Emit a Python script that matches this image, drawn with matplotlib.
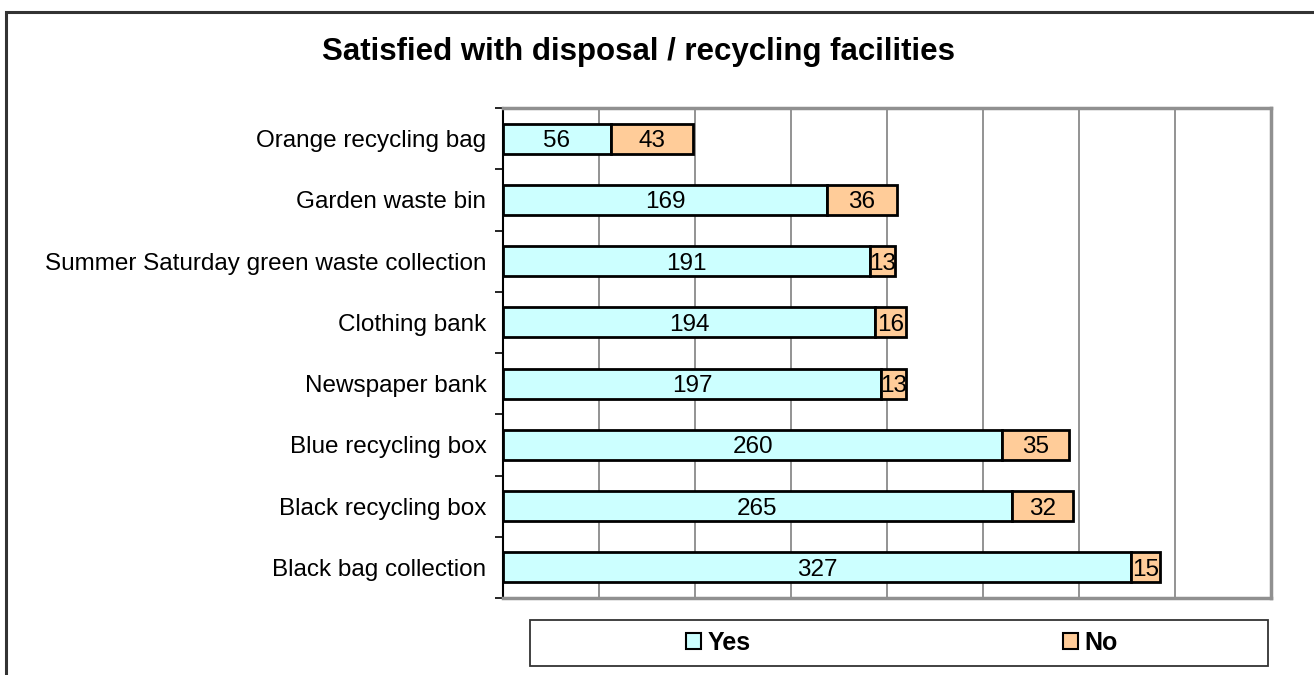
import matplotlib
matplotlib.use("Agg")
import matplotlib.pyplot as plt
from matplotlib.patches import Rectangle, Patch
import numpy as np

categories = ["Orange recycling bag", "Garden waste bin",
              "Summer Saturday green waste collection", "Clothing bank",
              "Newspaper bank", "Blue recycling box", "Black recycling box",
              "Black bag collection"]
yes_vals = [56, 169, 191, 194, 197, 260, 265, 327]
no_vals = [43, 36, 13, 16, 13, 35, 32, 15]
series_names = ["Yes", "No"]
title = "Satisfied with disposal / recycling facilities"

plt.rcParams['font.family'] = ['Liberation Sans', 'DejaVu Sans']

W, H = 1314, 675
fig = plt.figure(figsize=(W / 100, H / 100), dpi=100)

# outer chart border (extends beyond the image on right/bottom)
fig.patches.append(Rectangle((6 / W, -0.05), 1.1, 1 - 12 / H + 0.05,
                             transform=fig.transFigure, fill=False,
                             edgecolor='#333333', linewidth=2.2, clip_on=False))

ax = fig.add_axes([503 / W, 1 - 598 / H, (1271 - 503) / W, (598 - 108) / H])

y = np.arange(len(categories))
yes_c = '#CCFFFF'
no_c = '#FFCC99'
b1 = ax.barh(y, yes_vals, height=0.49, color=yes_c, edgecolor='black', linewidth=2, zorder=3)
b2 = ax.barh(y, no_vals, left=yes_vals, height=0.49, color=no_c, edgecolor='black', linewidth=2, zorder=3)
for bars, vals in ((b1, yes_vals), (b2, no_vals)):
    for t in ax.bar_label(bars, labels=[str(v) for v in vals], label_type='center',
                          fontsize=17.5, zorder=4):
        t.set_va('center_baseline')

ax.set_xlim(0, 400)
ax.set_ylim(len(categories) - 0.5, -0.5)
ax.set_xticks(np.arange(0, 401, 50))
ax.set_xticklabels([])
ax.tick_params(axis='x', length=0)
ax.grid(axis='x', color='#808080', linewidth=1.2, zorder=0)

ax.set_yticks(y)
ax.set_yticklabels(categories, fontsize=17.5)
ax.tick_params(axis='y', which='major', length=0, pad=12)
ax.set_yticks(np.arange(-0.5, len(categories) + 0.5, 1), minor=True)
ax.tick_params(axis='y', which='minor', length=6, width=1.2, direction='out', color='black')

for s in ['top', 'right', 'bottom']:
    ax.spines[s].set_color('#909090')
    ax.spines[s].set_linewidth(2.5)
ax.spines['left'].set_color('black')
ax.spines['left'].set_linewidth(1.5)

fig.text(638 / W, 1 - 52 / H, title, ha='center', va='center',
         fontsize=22.5, fontweight='bold')

# legend box
fig.patches.append(Rectangle((530 / W, 1 - 666 / H), (1268 - 530) / W, (666 - 620) / H,
                             transform=fig.transFigure, fill=False,
                             edgecolor='#333333', linewidth=1.3))
handles = [Patch(facecolor=yes_c, edgecolor='black', linewidth=1.5),
           Patch(facecolor=no_c, edgecolor='black', linewidth=1.5)]
fig.legend(handles, series_names, loc='center', bbox_to_anchor=(902 / W, 1 - 643 / H),
           ncol=2, frameon=False, prop={'weight': 'bold', 'size': 18},
           handlelength=0.6, handleheight=0.6, handletextpad=0.25, columnspacing=12.5)

fig.savefig("out.png", dpi=100)
